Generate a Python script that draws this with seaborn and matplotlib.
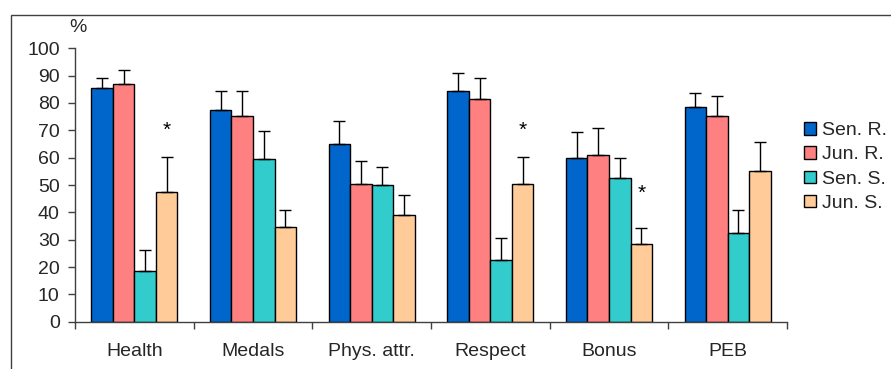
import numpy as np
import pandas as pd
import seaborn as sns
import matplotlib.pyplot as plt
from matplotlib.patches import Rectangle

categories = ["Health", "Medals", "Phys. attr.", "Respect", "Bonus", "PEB"]
groups = ["Sen. R.", "Jun. R.", "Sen. S.", "Jun. S."]

sen_r = [85.3, 77.5, 65.0, 84.2, 59.9, 78.4]
jun_r = [86.8, 75.2, 50.4, 81.4, 61.0, 75.2]
sen_s = [18.5, 59.4, 49.9, 22.4, 52.6, 32.5]
jun_s = [47.6, 34.7, 39.2, 50.4, 28.5, 55.0]

# upper error (bar top + error)
sen_r_err = [3.9, 6.8, 8.4, 6.8, 9.5, 5.2]
jun_r_err = [5.1, 9.1, 8.4, 7.8, 9.8, 7.3]
sen_s_err = [7.9, 10.2, 6.7, 8.3, 7.3, 8.3]
jun_s_err = [12.5, 6.1, 7.3, 9.7, 5.6, 10.6]

# significance stars over Jun. S.
star_cats = ["Health", "Respect", "Bonus"]
star_y = [70.0, 70.0, 47.0]

colors = ["#0066CC", "#FF8080", "#33CCCC", "#FFCC99"]

values = [sen_r, jun_r, sen_s, jun_s]
errors = [sen_r_err, jun_r_err, sen_s_err, jun_s_err]
df = pd.DataFrame({
    "category": np.tile(categories, len(groups)),
    "group": np.repeat(groups, len(categories)),
    "value": np.concatenate(values),
    "err": np.concatenate(errors),
})

sns.set_theme(style="white")
plt.rcParams["font.family"] = ["Liberation Sans", "DejaVu Sans"]
fs = 14

fig = plt.figure(figsize=(8.91, 3.69), dpi=100)
ax = fig.add_axes([75 / 891, 1 - 321.7 / 369, 712 / 891, 273.4 / 369])

sns.barplot(data=df, x="category", y="value", hue="group", order=categories,
            hue_order=groups, palette=colors, width=0.725, errorbar=None,
            edgecolor="black", linewidth=1, saturation=1, ax=ax)

# error bars, upper side only, from bar centres
bars = [p for p in ax.patches if p.get_height() > 0][:len(df)]
for p, (_, row) in zip(bars, df.iterrows()):
    xc = p.get_x() + p.get_width() / 2
    ax.errorbar(xc, row["value"], yerr=[[0], [row["err"]]], fmt="none",
                ecolor="black", elinewidth=1, capsize=4, capthick=1, zorder=3)
    if row["group"] == "Jun. S." and row["category"] in star_cats:
        yy = star_y[star_cats.index(row["category"])]
        ax.text(xc, yy, "*", ha="center", va="center", fontsize=15, color="black")

ax.set_xlim(-0.5, len(categories) - 0.5)
ax.set_ylim(0, 100)
ax.set_yticks(range(0, 101, 10))
ax.set_xlabel("")
ax.set_ylabel("")
ax.set_xticks(np.arange(-0.5, len(categories), 1), minor=True)
ax.tick_params(axis="x", which="major", length=0, pad=15, labelsize=fs)
ax.tick_params(axis="x", which="minor", length=5, width=1, color="#404040",
               direction="out", bottom=True)
ax.tick_params(axis="y", length=5, width=1, color="#404040", direction="out",
               left=True, pad=6, labelsize=fs)
for side in ["top", "right"]:
    ax.spines[side].set_visible(False)
for side in ["left", "bottom"]:
    ax.spines[side].set_color("#404040")
    ax.spines[side].set_linewidth(1)

leg = ax.legend(loc="center left", bbox_to_anchor=(804 / 891, 1 - 167 / 369),
                bbox_transform=fig.transFigure, frameon=False, fontsize=fs,
                borderpad=0, borderaxespad=0, handlelength=0.6,
                handleheight=0.6, handletextpad=0.35, labelspacing=0.37)
for h in leg.legend_handles:
    h.set_edgecolor("black")
    h.set_linewidth(1)

fig.text(78 / 891, 1 - 28 / 369, "%", ha="center", va="center", fontsize=fs)

# outer frame (left and top edges visible)
fig.add_artist(Rectangle((11 / 891, -0.2), 1.2, 1 - 15 / 369 + 0.2,
                         transform=fig.transFigure, fill=False,
                         edgecolor="#404040", linewidth=1))

fig.savefig("out.png", dpi=100)
